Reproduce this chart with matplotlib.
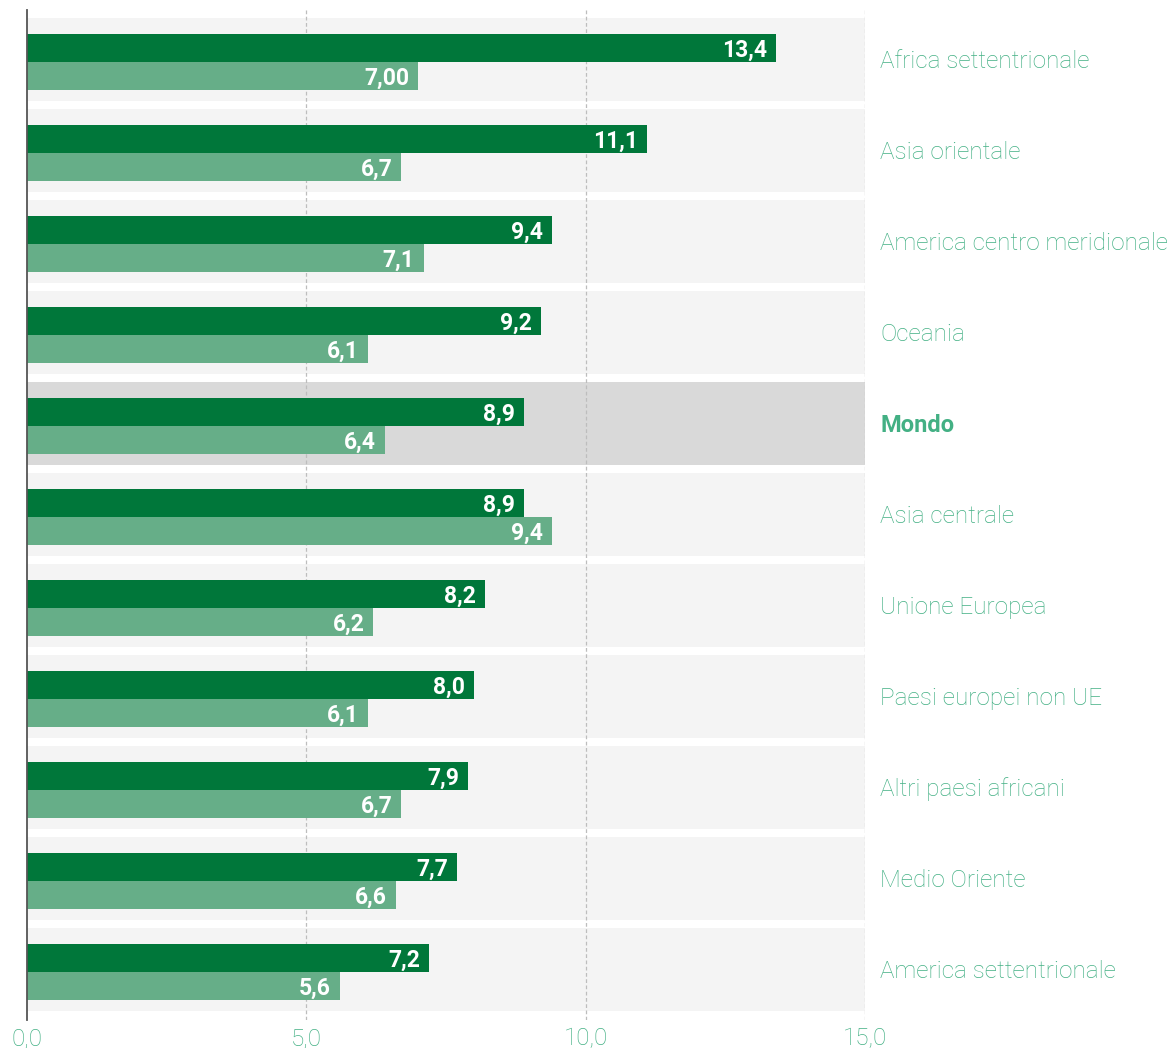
import matplotlib.pyplot as plt

plt.rcParams['font.family'] = 'Roboto'

regions = ['Africa settentrionale', 'Asia orientale', 'America centro meridionale',
           'Oceania', 'Mondo', 'Asia centrale', 'Unione Europea',
           'Paesi europei non UE', 'Altri paesi africani', 'Medio Oriente',
           'America settentrionale']
dark_vals = ['13,4', '11,1', '9,4', '9,2', '8,9', '8,9', '8,2', '8,0', '7,9', '7,7', '7,2']
light_vals = ['7,00', '6,7', '7,1', '6,1', '6,4', '9,4', '6,2', '6,1', '6,7', '6,6', '5,6']
xticks = [0, 5, 10, 15]
xtick_labels = ['0,0', '5,0', '10,0', '15,0']
highlight = 'Mondo'

DARK = '#00773a'
LIGHT = '#66ae88'
TEXT_GREEN = '#43b084'


def num(s):
    return float(s.replace(',', '.'))


fig = plt.figure(figsize=(11.71, 10.48), dpi=100)
ax = fig.add_axes([27 / 1171, 1 - 1020 / 1048, 838 / 1171, 1010 / 1048])

xmax = 15
ax.set_xlim(0, xmax)
ax.set_ylim(len(regions) - 1 + 0.555, -0.544)

ys = list(range(len(regions)))
band_colors = ['#d9d9d9' if r == highlight else '#f4f4f4' for r in regions]
ax.barh(ys, [xmax] * len(ys), height=0.912, color=band_colors, zorder=0)

for x in xticks[1:]:
    ax.axvline(x, color='#bdbdbd', lw=0.9, ls=(0, (3, 2)), zorder=1)

h = 0.308
shift = 0.025
dark = [num(v) for v in dark_vals]
light = [num(v) for v in light_vals]
dark_y = [y - h / 2 + shift for y in ys]
light_y = [y + h / 2 + shift for y in ys]
ax.barh(dark_y, dark, height=h, color=DARK, zorder=2)
ax.barh(light_y, light, height=h, color=LIGHT, zorder=2)

for y, v, s in zip(dark_y + light_y, dark + light, dark_vals + light_vals):
    ax.annotate(s, (v, y), xytext=(-9, 0), textcoords='offset pixels',
                ha='right', va='center_baseline', color='white',
                fontsize=16.5, fontweight='bold', zorder=3)

# region names to the right of the plotting area
for y, r in zip(ys, regions):
    bold = r == highlight
    ax.annotate(r, (xmax, y), xytext=(15, -2), textcoords='offset pixels',
                ha='left', va='center', color=TEXT_GREEN,
                fontsize=17 if bold else 17.5,
                fontweight='bold' if bold else 'light',
                annotation_clip=False)

ax.set_xticks(xticks)
ax.set_xticklabels(xtick_labels, color=TEXT_GREEN, fontsize=17.5, fontweight='light')
ax.tick_params(axis='x', length=0, pad=5)
ax.set_yticks([])

for side in ['top', 'right', 'bottom']:
    ax.spines[side].set_visible(False)
ax.spines['left'].set_color('#555555')
ax.spines['left'].set_linewidth(1.3)

fig.savefig('out.png', dpi=100, facecolor='white')
